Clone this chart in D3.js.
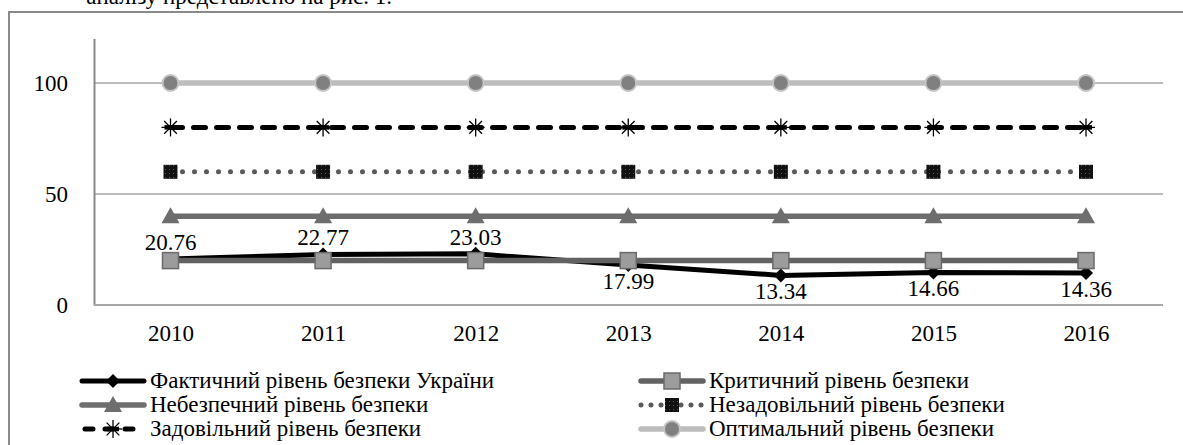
<!DOCTYPE html>
<html><head><meta charset="utf-8">
<script src="https://cdn.jsdelivr.net/npm/d3@7"></script>
<style>body{margin:0;background:#fff;}svg text{font-family:"Liberation Serif","Times New Roman",Times,"DejaVu Serif",serif !important;}</style>
</head><body>
<svg id="c" width="1183" height="445"></svg>
<script>
const years = ["2010","2011","2012","2013","2014","2015","2016"];
const actual = [20.76, 22.77, 23.03, 17.99, 13.34, 14.66, 14.36];
const critical = [20, 20, 20, 20, 20, 20, 20];
const dangerous = [40, 40, 40, 40, 40, 40, 40];
const unsatisfactory = [60, 60, 60, 60, 60, 60, 60];
const satisfactory = [80, 80, 80, 80, 80, 80, 80];
const optimal = [100, 100, 100, 100, 100, 100, 100];
const yTicks = [0, 50, 100];
const seriesNames = ["Фактичний рівень безпеки України","Критичний рівень безпеки","Небезпечний рівень безпеки","Незадовільний рівень безпеки","Задовільний рівень безпеки","Оптимальний рівень безпеки"];
const labelAbove = [true, true, true, false, false, false, false];

const svg = d3.select("#c");
const defs = svg.append("defs");
const pat = defs.append("pattern").attr("id","dots").attr("width",4).attr("height",4).attr("patternUnits","userSpaceOnUse");
pat.append("rect").attr("width",4).attr("height",4).attr("fill","#111");
pat.append("rect").attr("x",1).attr("y",1).attr("width",1).attr("height",1).attr("fill","#555");

// preceding document text (cropped in the reference)
svg.append("text").attr("x",392).attr("y",4).attr("text-anchor","end").attr("font-size",23).attr("fill","#000").text("аналізу представлено на рис. 1.");

// frame
svg.append("rect").attr("x",9).attr("y",12).attr("width",1200).attr("height",460).attr("fill","none").attr("stroke","#8a8a8a").attr("stroke-width",2);

const x = d3.scalePoint().domain(years).range([170.5, 1086]);
const y = d3.scaleLinear().domain([0,120]).range([305, 38.6]);
const x0 = 94, x1 = 1163;

// gridlines
svg.append("g").selectAll("line").data(yTicks.filter(d=>d>0)).join("line")
  .attr("x1",x0).attr("x2",x1).attr("y1",d=>y(d)).attr("y2",d=>y(d))
  .attr("stroke","#a6a6a6").attr("stroke-width",1.5);
// axes
const yAxis = d3.axisLeft(y).tickValues(yTicks).tickSize(0).tickPadding(26).tickFormat(d3.format("d"));
const gy = svg.append("g").attr("transform",`translate(${x0},0)`).call(yAxis);
gy.attr("font-family",null);
gy.select(".domain").attr("stroke","#8a8a8a").attr("stroke-width",2);
gy.selectAll("text").attr("font-size",23).attr("fill","#000");
svg.append("line").attr("x1",x0).attr("x2",x1).attr("y1",y(0)).attr("y2",y(0)).attr("stroke","#a6a6a6").attr("stroke-width",2);
const xAxis = d3.axisBottom(x).tickSize(0).tickPadding(20);
const gx = svg.append("g").attr("transform",`translate(0,${y(0)})`).call(xAxis);
gx.attr("font-family",null);
gx.select(".domain").remove();
gx.selectAll("text").attr("font-size",23).attr("fill","#000");

const line = d3.line().x((d,i)=>x(years[i])).y(d=>y(d));

const markers = {
  diamond:(g,cx,cy)=>g.append("path").attr("d",`M${cx},${cy-7}L${cx+7},${cy}L${cx},${cy+7}L${cx-7},${cy}Z`).attr("fill","#000"),
  square:(g,cx,cy)=>g.append("rect").attr("x",cx-8).attr("y",cy-8).attr("width",16).attr("height",16).attr("fill","#9c9c9c").attr("stroke","#6a6a6a").attr("stroke-width",1.5),
  triangle:(g,cx,cy)=>g.append("path").attr("d",`M${cx},${cy-9}L${cx+9},${cy+7}L${cx-9},${cy+7}Z`).attr("fill","#6e6e6e"),
  blacksq:(g,cx,cy)=>g.append("rect").attr("x",cx-7).attr("y",cy-7).attr("width",14).attr("height",14).attr("fill","url(#dots)"),
  star:(g,cx,cy)=>{const s=g.append("g").attr("stroke","#000").attr("stroke-width",1.3);
    [0,45,90,135].forEach(a=>{const r=9,rad=a*Math.PI/180;s.append("line").attr("x1",cx-r*Math.cos(rad)).attr("y1",cy-r*Math.sin(rad)).attr("x2",cx+r*Math.cos(rad)).attr("y2",cy+r*Math.sin(rad));});
    g.append("line").attr("x1",cx-6).attr("x2",cx+6).attr("y1",cy).attr("y2",cy).attr("stroke","#000").attr("stroke-width",4.5);},
  circle:(g,cx,cy)=>g.append("circle").attr("cx",cx).attr("cy",cy).attr("r",8).attr("fill","#808080").attr("stroke","#c4c4c4").attr("stroke-width",2)
};

const series = [
  {vals:optimal, stroke:"#bdbdbd", w:5.5, dash:null, cap:"butt", m:"circle"},
  {vals:satisfactory, stroke:"#000", w:5, dash:"12,11", cap:"round", m:"star"},
  {vals:unsatisfactory, stroke:"#5a5a5a", w:5, dash:"0,12", cap:"round", m:"blacksq"},
  {vals:dangerous, stroke:"#6e6e6e", w:5.5, dash:null, cap:"butt", m:"triangle"},
  {vals:actual, stroke:"#000", w:5, dash:null, cap:"butt", m:"diamond"},
  {vals:critical, stroke:"#626262", w:5.5, dash:null, cap:"butt", m:"square"}
];
series.forEach(s=>{
  svg.append("path").attr("d",line(s.vals)).attr("fill","none").attr("stroke",s.stroke).attr("stroke-width",s.w)
    .attr("stroke-dasharray",s.dash).attr("stroke-linecap",s.cap);
  const g = svg.append("g");
  s.vals.forEach((v,i)=>markers[s.m](g,x(years[i]),y(v)));
});

// data labels
svg.append("g").selectAll("text").data(actual).join("text")
  .attr("x",(d,i)=>x(years[i])).attr("y",(d,i)=>labelAbove[i]? y(d)-9 : y(d)+24)
  .attr("text-anchor","middle").attr("font-size",23).attr("fill","#000").text(d=>d.toFixed(2));

// legend
const legend = [
  {name:seriesNames[0], col:0,row:0, s:series[4]},
  {name:seriesNames[1], col:1,row:0, s:series[5]},
  {name:seriesNames[2], col:0,row:1, s:series[3]},
  {name:seriesNames[3], col:1,row:1, s:series[2]},
  {name:seriesNames[4], col:0,row:2, s:series[1]},
  {name:seriesNames[5], col:1,row:2, s:series[0]}
];
const lx = [82, 641], ly = [381, 405, 429], lw = 62;
legend.forEach(l=>{
  const g = svg.append("g");
  const X = lx[l.col], Y = ly[l.row];
  let dash = l.s.dash;
  if (l.s.m==="star") { dash = "8,12"; }
  if (l.s.m==="blacksq") { dash = "0,10"; }
  g.append("line").attr("x1",X+(l.s.m==="star"?3:0)).attr("x2",X+lw).attr("y1",Y).attr("y2",Y).attr("stroke",l.s.stroke)
    .attr("stroke-width",l.s.w).attr("stroke-dasharray",dash).attr("stroke-linecap","round");
  markers[l.s.m](g, X+lw/2, Y);
  g.append("text").attr("x",X+lw+6).attr("y",Y+7).attr("font-size",23).attr("fill","#000").text(l.name);
});
</script>
</body></html>
